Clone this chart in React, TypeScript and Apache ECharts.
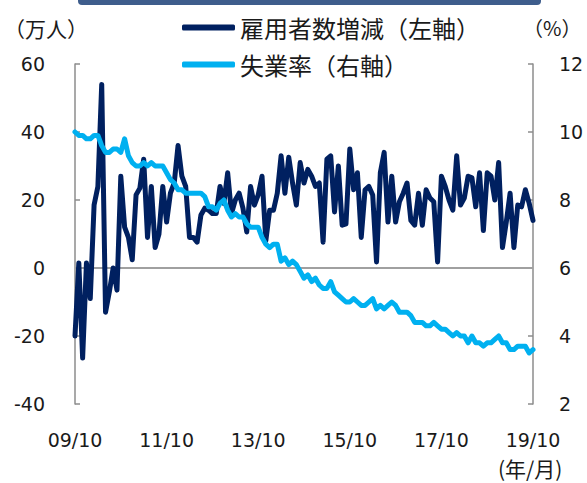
import React, { useEffect, useRef } from "react";
import * as echarts from "echarts";

// Monthly data, 2009/10 – 2019/10
const startYear = 2009;
const startMonth = 10;
const monthCount = 121;

// 雇用者数増減（万人）
const payrolls = [
  -20, 1.5, -26.5, 1.5, -9, 18.5, 24, 54, -13, -7, 0, -6.5, 27, 12, 9, 2.4,
  21.5, 23.5, 32, 9, 24, 6, 10, 24, 13.5, 22, 25, 36, 27, 24, 9, 9, 7.6, 15.6,
  17.6, 17, 16, 16, 24, 19, 28, 16, 20, 22, 17.6, 10.6, 24, 18.5, 21.5, 27, 8,
  17, 17, 22, 33, 22, 32.6, 25, 18.5, 31, 25, 29, 27, 24, 25, 7.6, 32, 33, 16.5,
  30, 12.6, 13, 35, 23, 28, 9, 23, 24, 21.5, 1.8, 28, 34, 13.5, 27, 13.5, 19.5,
  22, 25, 14, 12.6, 22, 12.6, 23, 20.6, 19.5, 1.8, 27, 24, 20, 17, 33, 18.5,
  20.6, 27, 26.5, 18, 28, 11, 28, 27, 20, 31, 6, 13.5, 22, 6, 18.5, 18, 23, 19,
  14,
];

// 失業率（%）
const unemployment = [
  10.0, 9.9, 9.9,
  9.8, 9.8, 9.9, 9.9, 9.6, 9.4, 9.4, 9.5, 9.5, 9.4, 9.8, 9.3,
  9.1, 9.0, 9.0, 9.1, 9.0, 9.1, 9.0, 9.0, 9.0, 8.8, 8.6, 8.5,
  8.3, 8.3, 8.2, 8.2, 8.2, 8.2, 8.2, 8.1, 7.8, 7.8, 7.7, 7.9,
  8.0, 7.7, 7.5, 7.6, 7.5, 7.5, 7.3, 7.2, 7.2, 7.2, 6.9, 6.7,
  6.6, 6.7, 6.7, 6.2, 6.3, 6.1, 6.2, 6.1, 5.9, 5.7, 5.8, 5.6,
  5.7, 5.5, 5.4, 5.4, 5.6, 5.3, 5.2, 5.1, 5.0, 5.0, 5.1, 5.0,
  4.9, 4.9, 5.0, 5.1, 4.8, 4.9, 4.8, 4.9, 5.0, 4.9, 4.7, 4.7,
  4.7, 4.6, 4.4, 4.4, 4.4, 4.3, 4.3, 4.4, 4.3, 4.2, 4.2, 4.1,
  4.0, 4.1, 4.0, 4.0, 3.8, 4.0, 3.8, 3.8, 3.7, 3.8, 3.8, 3.9,
  4.0, 3.8, 3.8, 3.6, 3.6, 3.7, 3.7, 3.7, 3.5, 3.6,
];

const seriesNames = ["雇用者数増減（左軸）", "失業率（右軸）"];
const leftUnit = "（万人）";
const rightUnit = "（%）";
const xUnit = "(年/月)";
const labelEvery = 24;

const categories: string[] = [];
for (let i = 0; i < monthCount; i++) {
  const m0 = startMonth - 1 + i;
  const y = startYear + Math.floor(m0 / 12);
  const m = (m0 % 12) + 1;
  categories.push(
    String(y % 100).padStart(2, "0") + "/" + String(m).padStart(2, "0")
  );
}

const NUM_FONT = "DejaVu Sans, Verdana, sans-serif";
const JP_FONT = "'Noto Sans CJK JP', sans-serif";
const NAVY = "#002060";
const CYAN = "#00B0F0";
const AXIS_GRAY = "#8c8c8c";
const TEXT = "#1a1a1a";

export default function App() {
  const ref = useRef<HTMLDivElement>(null);
  useEffect(() => {
    document.body.style.margin = "0";
    if (!ref.current) return;
    const chart = echarts.init(ref.current, undefined, { renderer: "svg" });
    chart.setOption({
      animation: false,
      backgroundColor: "#ffffff",
      grid: { left: 75, right: 54, top: 64, bottom: 79, containLabel: false },
      legend: {
        orient: "vertical",
        left: 177,
        top: 10,
        itemWidth: 53,
        itemHeight: 6,
        itemGap: 12,
        icon: "roundRect",
        textStyle: { fontFamily: JP_FONT, fontSize: 24, lineHeight: 25, color: TEXT },
        data: seriesNames,
      },
      graphic: [
        {
          type: "rect",
          shape: { x: 78, y: -8, width: 463, height: 13, r: 4 },
          style: { fill: "#3e5d8c" },
          silent: true,
        },
        {
          type: "text",
          left: 4,
          top: 17,
          style: { text: leftUnit, font: `21px ${JP_FONT}`, fill: TEXT },
        },
        {
          type: "text",
          left: 523,
          top: 17,
          style: { text: rightUnit, font: `20px ${JP_FONT}`, fill: TEXT },
        },
        {
          type: "text",
          left: 498,
          top: 457,
          style: { text: xUnit, font: `21px ${JP_FONT}`, fill: TEXT },
        },
      ],
      xAxis: {
        type: "category",
        data: categories,
        boundaryGap: false,
        axisLine: { show: false, onZero: false },
        axisTick: { show: false },
        splitLine: { show: false },
        axisLabel: {
          interval: (idx: number) => idx % labelEvery === 0,
          margin: 26,
          fontFamily: NUM_FONT,
          fontSize: 19,
          color: TEXT,
        },
      },
      yAxis: [
        {
          type: "value",
          min: -40,
          max: 60,
          interval: 20,
          position: "left",
          axisLine: { show: true, lineStyle: { color: AXIS_GRAY, width: 1.5 } },
          axisTick: { show: true, inside: true, length: 5, lineStyle: { color: AXIS_GRAY, width: 1.5 } },
          splitLine: { show: false },
          axisLabel: { margin: 30, fontFamily: NUM_FONT, fontSize: 19, color: TEXT },
        },
        {
          type: "value",
          min: 2,
          max: 12,
          interval: 2,
          position: "right",
          axisLine: { show: true, lineStyle: { color: AXIS_GRAY, width: 1.5 } },
          axisTick: { show: true, inside: true, length: 5, lineStyle: { color: AXIS_GRAY, width: 1.5 } },
          splitLine: { show: false },
          axisLabel: { margin: 26, fontFamily: NUM_FONT, fontSize: 19, color: TEXT },
        },
      ],
      series: [
        {
          name: seriesNames[0],
          type: "line",
          yAxisIndex: 0,
          data: payrolls,
          showSymbol: false,
          symbol: "none",
          color: NAVY,
          lineStyle: { color: NAVY, width: 5, join: "round", cap: "round" },
          z: 3,
          markLine: {
            silent: true,
            symbol: "none",
            label: { show: false },
            lineStyle: { color: "#a0a0a0", width: 2, type: "solid" },
            data: [{ yAxis: 0 }],
            z: 1,
          },
        },
        {
          name: seriesNames[1],
          type: "line",
          yAxisIndex: 1,
          data: unemployment,
          showSymbol: false,
          symbol: "none",
          color: CYAN,
          lineStyle: { color: CYAN, width: 5, join: "round", cap: "round" },
          z: 4,
        },
      ],
    });
    return () => chart.dispose();
  }, []);
  return <div ref={ref} style={{ width: 587, height: 483 }} />;
}
